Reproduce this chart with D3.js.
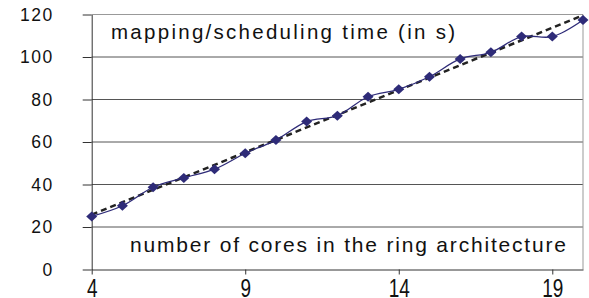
<!DOCTYPE html>
<html>
<head>
<meta charset="utf-8">
<script src="https://cdn.jsdelivr.net/npm/d3@7"></script>
<style>
  body { margin: 0; background: #fff; }
  text { font-family: "Liberation Sans", Arial, sans-serif; fill: #111; }
</style>
</head>
<body>
<div id="chart"></div>
<script>
// number of cores
var cores = [4, 5, 6, 7, 8, 9, 10, 11, 12, 13, 14, 15, 16, 17, 18, 19, 20];
// mapping/scheduling time in seconds
var times = [25, 30, 38.7, 43.1, 47.2, 54.7, 60.9, 69.6, 72.4, 81.3, 84.8, 90.7, 99.1, 102.2, 109.6, 109.6, 117.4];
// linear trend end points
var trendX = [4, 20];
var trendY = [25.8, 119.6];
var xTicks = [4, 9, 14, 19];
var yTicks = [0, 20, 40, 60, 80, 100, 120];

var width = 589, height = 298;
var plotLeft = 91.7, plotRight = 583, plotTop = 14.5, plotBottom = 269.5;

var svg = d3.select("#chart")
  .append("svg")
    .attr("width", width)
    .attr("height", height);

var x = d3.scaleLinear().domain([4, 20]).range([plotLeft, plotRight]);
var y = d3.scaleLinear().domain([0, 120]).range([plotBottom, plotTop]);

// horizontal gridlines
svg.append("g")
  .selectAll("line")
  .data(yTicks.filter(function(d) { return d > 0 && d < 120; }))
  .enter()
  .append("line")
    .attr("x1", plotLeft).attr("x2", plotRight)
    .attr("y1", function(d) { return y(d); })
    .attr("y2", function(d) { return y(d); })
    .attr("stroke", "#555")
    .attr("stroke-width", 1);

// plot area border top / right
svg.append("line")
  .attr("x1", plotLeft).attr("x2", plotRight)
  .attr("y1", y(120)).attr("y2", y(120))
  .attr("stroke", "#999");
svg.append("line")
  .attr("x1", plotRight).attr("x2", plotRight)
  .attr("y1", y(120)).attr("y2", plotBottom)
  .attr("stroke", "#999");

// Y axis
var yAxis = svg.append("g")
  .attr("transform", "translate(" + plotLeft + ",0)")
  .call(d3.axisLeft(y).tickValues(yTicks).tickSize(9).tickPadding(29).tickSizeOuter(0));
yAxis.select(".domain").attr("stroke", "#333");
yAxis.selectAll(".tick line").attr("stroke", "#333");
yAxis.selectAll("text")
  .attr("font-size", 17.5)
  .attr("letter-spacing", 1.5)
  .attr("font-family", "Liberation Sans, Arial, sans-serif")
  .attr("fill", "#111");

// X axis
var sy = 1.4;
var xAxis = svg.append("g")
  .attr("transform", "translate(0," + plotBottom + ")")
  .call(d3.axisBottom(x).tickValues(xTicks).tickSize(5).tickSizeOuter(0));
xAxis.select(".domain").attr("stroke", "#333");
xAxis.selectAll(".tick line").attr("stroke", "#333");
xAxis.selectAll("text")
  .attr("font-size", 19)
  .attr("font-family", "Liberation Sans, Arial, sans-serif")
  .attr("fill", "#111")
  .attr("y", 28 / sy)
  .attr("dy", 0)
  .attr("transform", "scale(1," + sy + ")");

// trend line
svg.append("path")
  .datum(d3.zip(trendX, trendY))
  .attr("d", d3.line()
    .x(function(d) { return x(d[0]); })
    .y(function(d) { return y(d[1]); }))
  .attr("fill", "none")
  .attr("stroke", "#222")
  .attr("stroke-width", 2.5)
  .attr("stroke-dasharray", "6,4");

// data line (smoothed)
var pts = d3.zip(cores, times);
svg.append("path")
  .datum(pts)
  .attr("d", d3.line()
    .curve(d3.curveCatmullRom.alpha(0.5))
    .x(function(d) { return x(d[0]); })
    .y(function(d) { return y(d[1]); }))
  .attr("fill", "none")
  .attr("stroke", "#2e2b78")
  .attr("stroke-width", 1.3);

// diamond markers
svg.append("g")
  .selectAll("path")
  .data(pts)
  .enter()
  .append("path")
    .attr("transform", function(d) { return "translate(" + x(d[0]) + "," + y(d[1]) + ")"; })
    .attr("d", "M0,-5L5.5,0L0,5L-5.5,0Z")
    .attr("fill", "#2e2b78");

// labels
svg.append("text")
  .attr("x", 111).attr("y", 38.5)
  .attr("font-size", 20.5)
  .attr("textLength", 344)
  .attr("lengthAdjust", "spacing")
  .text("mapping/scheduling time (in s)");

svg.append("text")
  .attr("x", 130).attr("y", 252)
  .attr("font-size", 21)
  .attr("textLength", 436)
  .attr("lengthAdjust", "spacing")
  .text("number of cores in the ring architecture");
</script>
</body>
</html>
